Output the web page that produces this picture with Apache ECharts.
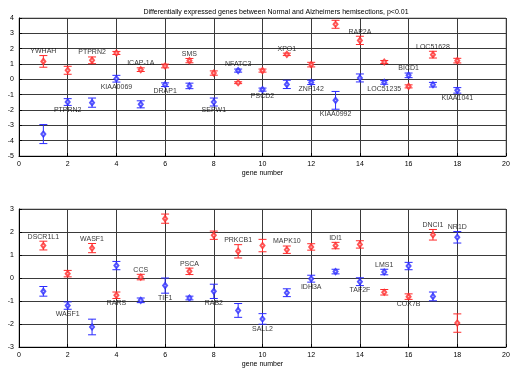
<!DOCTYPE html>
<html>
<head>
<meta charset="utf-8">
<script src="https://cdn.jsdelivr.net/npm/echarts@6/dist/echarts.min.js"></script>
<style>
  html, body { margin: 0; padding: 0; background: #fff; }
  #chart { width: 518px; height: 374px; }
</style>
</head>
<body>
<div id="chart"></div>
<script>
const genes = [1, 2, 3, 4, 5, 6, 7, 8, 9, 10, 11, 12, 13, 14, 15, 16, 17, 18]

// top panel
const topNames = ['YWHAH', 'PTPRN2', 'PTPRN2', 'KIAA0069', 'ICAP-1A', 'DRAP1', 'SMS', 'SEPW1', 'NFATC3',
  'PSCD2', 'XPO1', 'ZNF142', 'KIAA0992', 'RAP2A', 'LOC51235', 'BICD1', 'LOC51628', 'KIAA1041']
// which point the name sits on: r/b = red/blue, t/b = above/below
const topLabelAt = ['rt', 'bb', 'rt', 'bb', 'rt', 'bb', 'rt', 'bb', 'bt', 'bb', 'rt', 'bb', 'bb', 'rt', 'bb', 'bt', 'rt', 'bb']
const topRed = [1.17, 0.59, 1.24, 1.72, 0.63, 0.87, 1.22, 0.41, -0.22, 0.57, 1.63, 0.96, 3.59, 2.54, 1.13, -0.46, 1.61, 1.22]
const topRedErr = [0.38, 0.26, 0.22, 0.1, 0.12, 0.12, 0.14, 0.14, 0.06, 0.1, 0.08, 0.15, 0.26, 0.27, 0.1, 0.1, 0.22, 0.15]
const topBlue = [-3.57, -1.48, -1.52, 0.04, -1.63, -0.35, -0.43, -1.48, 0.57, -0.67, -0.33, -0.2, -1.37, 0.09, -0.2, 0.26, -0.35, -0.72]
const topBlueErr = [0.62, 0.22, 0.3, 0.22, 0.23, 0.12, 0.18, 0.26, 0.1, 0.1, 0.27, 0.14, 0.58, 0.26, 0.12, 0.15, 0.15, 0.18]

// bottom panel
const botNames = ['DSCR1L1', 'WASF1', 'WASF1', 'RARS', 'CCS', 'TIF1', 'PSCA', 'RAB2', 'PRKCB1',
  'SALL2', 'MAPK10', 'IDH3A', 'IDI1', 'TAF2F', 'LMS1', 'COX7B', 'DNCI1', 'NR1D']
const botLabelAt = ['rt', 'bb', 'rt', 'rb', 'rt', 'bb', 'rt', 'bb', 'rt', 'bb', 'rt', 'bb', 'rt', 'bb', 'bt', 'rb', 'rt', 'bt']
const botRed = [1.41, 0.19, 1.3, -0.75, 0.04, 2.58, 0.29, 1.86, 1.16, 1.41, 1.23, 1.35, 1.41, 1.46, -0.62, -0.81, 1.88, -1.96]
const botRedErr = [0.19, 0.14, 0.2, 0.14, 0.12, 0.2, 0.14, 0.18, 0.29, 0.27, 0.16, 0.14, 0.14, 0.16, 0.12, 0.12, 0.23, 0.4]
const botBlue = [-0.58, -1.2, -2.13, 0.54, -0.97, -0.33, -0.87, -0.58, -1.41, -1.78, -0.64, -0.03, 0.28, -0.16, 0.26, 0.52, -0.8, 1.77]
const botBlueErr = [0.21, 0.16, 0.34, 0.18, 0.1, 0.33, 0.08, 0.31, 0.3, 0.23, 0.17, 0.15, 0.1, 0.17, 0.12, 0.16, 0.19, 0.25]

const RED = '#ff2a2a'
const BLUE = '#2a2aff'
const FONT = 'Liberation Sans'

function errSeries(idx, vals, errs, color) {
  return {
    type: 'custom',
    xAxisIndex: idx, yAxisIndex: idx,
    data: genes.map((g, i) => [g, vals[i], errs[i]]),
    renderItem: (params, api) => {
      const x = api.value(0), y = api.value(1), e = api.value(2)
      const hi = api.coord([x, y + e]), lo = api.coord([x, y - e])
      const w = 4
      const st = { stroke: color, lineWidth: 1 }
      return {
        type: 'group',
        children: [
          { type: 'line', shape: { x1: hi[0], y1: hi[1], x2: lo[0], y2: lo[1] }, style: st },
          { type: 'line', shape: { x1: hi[0] - w, y1: hi[1], x2: hi[0] + w, y2: hi[1] }, style: st },
          { type: 'line', shape: { x1: lo[0] - w, y1: lo[1], x2: lo[0] + w, y2: lo[1] }, style: st },
        ],
      }
    },
    silent: true,
  }
}

function dotSeries(idx, vals, color) {
  return {
    type: 'scatter',
    xAxisIndex: idx, yAxisIndex: idx,
    data: genes.map((g, i) => [g, vals[i]]),
    symbol: 'emptyDiamond',
    symbolSize: [4, 5],
    itemStyle: { color: color, borderColor: color, borderWidth: 0.8 },
    silent: true,
  }
}

function labelSeries(idx, names, at, red, redErr, blue, blueErr) {
  return {
    type: 'scatter',
    xAxisIndex: idx, yAxisIndex: idx,
    symbolSize: 0,
    silent: true,
    data: genes.map((g, i) => {
      const isRed = at[i][0] === 'r', up = at[i][1] === 't'
      const v = isRed ? red[i] : blue[i], e = isRed ? redErr[i] : blueErr[i]
      return {
        value: [g, up ? v + e : v - e],
        label: {
          show: true, formatter: names[i], position: up ? 'top' : 'bottom', distance: 1,
          fontSize: 7, fontFamily: FONT, color: '#000',
        },
      }
    }),
  }
}

const xBase = {
  type: 'value', min: 0, max: 20, interval: 2,
  name: 'gene number', nameLocation: 'middle', nameGap: 14,
  nameTextStyle: { fontSize: 7, fontFamily: FONT, color: '#000' },
  axisLine: { onZero: false, lineStyle: { color: '#000' } },
  axisTick: { inside: true, length: 3, lineStyle: { color: '#000' } },
  axisLabel: { fontSize: 7, fontFamily: FONT, color: '#000', margin: 5 },
  splitLine: { show: true, lineStyle: { color: '#3a3a3a', width: 1 } },
}
const yBase = {
  type: 'value', interval: 1,
  axisLine: { show: true, lineStyle: { color: '#000' } },
  axisTick: { show: true, inside: true, length: 3, lineStyle: { color: '#000' } },
  axisLabel: { fontSize: 7, fontFamily: FONT, color: '#000', margin: 5 },
  splitLine: { show: true, lineStyle: { color: '#3a3a3a', width: 1 } },
}

const chart = echarts.init(document.getElementById('chart'))
chart.setOption({
  animation: false,
  backgroundColor: '#fff',
  title: {
    text: 'Differentially expressed genes between Normal and Alzheimers hemisections, p<0.01',
    left: 271, top: 4, textAlign: 'center',
    textStyle: { fontSize: 7, fontWeight: 'normal', fontFamily: FONT, color: '#000' },
  },
  grid: [
    { left: 19, right: 12, top: 18, height: 138, show: true, borderColor: '#999', borderWidth: 1 },
    { left: 19, right: 12, top: 209, height: 138, show: true, borderColor: '#999', borderWidth: 1 },
  ],
  xAxis: [
    Object.assign({}, xBase, { gridIndex: 0 }),
    Object.assign({}, xBase, { gridIndex: 1 }),
  ],
  yAxis: [
    Object.assign({}, yBase, { gridIndex: 0, min: -5, max: 4 }),
    Object.assign({}, yBase, { gridIndex: 1, min: -3, max: 3 }),
  ],
  series: [
    errSeries(0, topRed, topRedErr, RED),
    errSeries(0, topBlue, topBlueErr, BLUE),
    dotSeries(0, topRed, RED),
    dotSeries(0, topBlue, BLUE),
    labelSeries(0, topNames, topLabelAt, topRed, topRedErr, topBlue, topBlueErr),
    errSeries(1, botRed, botRedErr, RED),
    errSeries(1, botBlue, botBlueErr, BLUE),
    dotSeries(1, botRed, RED),
    dotSeries(1, botBlue, BLUE),
    labelSeries(1, botNames, botLabelAt, botRed, botRedErr, botBlue, botBlueErr),
  ],
})
</script>
</body>
</html>
